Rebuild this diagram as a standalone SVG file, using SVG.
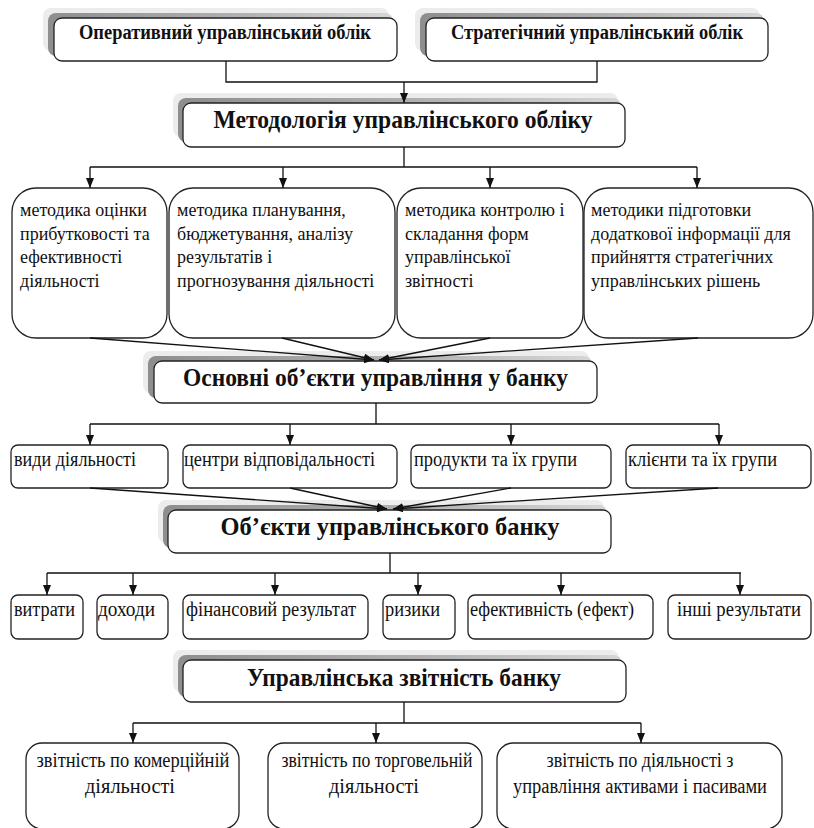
<svg xmlns="http://www.w3.org/2000/svg" width="814" height="828" viewBox="0 0 814 828" font-family="Liberation Serif, serif">
<style>
.bg{fill:#ffffff}
.box{fill:#ffffff;stroke:#222222;stroke-width:1.3}
.glow{fill:#ececec}
.sh{fill:url(#sg)}
.ln{fill:none;stroke:#111111;stroke-width:1.3}
.arr{fill:none;stroke:#111111;stroke-width:1.3;marker-end:url(#ah)}
text{fill:#111111}
.hd{font-weight:bold;text-anchor:middle}
.tp{font-size:20px}
.big{font-size:25px}
.t{font-size:18px}
.s{font-size:20px}
.c{text-anchor:middle}
</style>
<defs>
<linearGradient id="sg" x1="0" y1="0" x2="1" y2="0">
<stop offset="0" stop-color="#8e8e8e"/>
<stop offset="0.6" stop-color="#b4b4b4"/>
<stop offset="1" stop-color="#d6d6d6"/>
</linearGradient>
<marker id="ah" markerUnits="userSpaceOnUse" markerWidth="11" markerHeight="9" refX="10" refY="4" orient="auto">
<path d="M0,0 L10,4 L0,8 Z" fill="#111111"/>
</marker>
</defs>
<rect class="bg" x="0" y="0" width="814" height="828"/>

<g id="operational">
<rect class="glow" x="43" y="8" width="346" height="43" rx="8"/>
<rect class="sh" x="48" y="13" width="345" height="43" rx="8"/>
<rect class="box" x="54" y="18" width="343" height="43" rx="8"/>
<text class="hd tp" font-family="Liberation Serif" x="225" y="39" textLength="292" lengthAdjust="spacingAndGlyphs">Оперативний управлінський облік</text>
</g>
<g id="strategic">
<rect class="glow" x="415" y="8" width="345" height="43" rx="8"/>
<rect class="sh" x="420" y="13" width="344" height="43" rx="8"/>
<rect class="box" x="426" y="18" width="342" height="43" rx="8"/>
<text class="hd tp" font-family="Liberation Serif" x="597" y="39" textLength="292" lengthAdjust="spacingAndGlyphs">Стратегічний управлінський облік</text>
</g>
<g id="methodology">
<rect class="glow" x="173" y="93" width="445" height="44" rx="8"/>
<rect class="sh" x="178" y="98" width="443" height="44" rx="8"/>
<rect class="box" x="183" y="103" width="442" height="44" rx="8"/>
<text class="hd big" font-family="Liberation Serif" x="403" y="128" textLength="379" lengthAdjust="spacingAndGlyphs">Методологія управлінського обліку</text>
</g>

<g id="m1">
<rect class="box" x="12" y="188" width="155" height="150" rx="24"/>
<text class="t" font-family="Liberation Serif" x="20" y="216">методика оцінки</text>
<text class="t" font-family="Liberation Serif" x="20" y="240">прибутковості та</text>
<text class="t" font-family="Liberation Serif" x="20" y="263">ефективності</text>
<text class="t" font-family="Liberation Serif" x="20" y="287">діяльності</text>
</g>
<g id="m2">
<rect class="box" x="169" y="188" width="226" height="150" rx="24"/>
<text class="t" font-family="Liberation Serif" x="177" y="216">методика планування,</text>
<text class="t" font-family="Liberation Serif" x="177" y="240">бюджетування, аналізу</text>
<text class="t" font-family="Liberation Serif" x="177" y="263">результатів і</text>
<text class="t" font-family="Liberation Serif" x="177" y="287">прогнозування діяльності</text>
</g>
<g id="m3">
<rect class="box" x="397" y="188" width="186" height="150" rx="24"/>
<text class="t" font-family="Liberation Serif" x="405" y="216">методика контролю і</text>
<text class="t" font-family="Liberation Serif" x="405" y="240">складання форм</text>
<text class="t" font-family="Liberation Serif" x="405" y="263">управлінської</text>
<text class="t" font-family="Liberation Serif" x="405" y="287">звітності</text>
</g>
<g id="m4">
<rect class="box" x="584" y="188" width="229" height="150" rx="24"/>
<text class="t" font-family="Liberation Serif" x="591" y="216">методики підготовки</text>
<text class="t" font-family="Liberation Serif" x="591" y="240">додаткової інформації для</text>
<text class="t" font-family="Liberation Serif" x="591" y="263">прийняття стратегічних</text>
<text class="t" font-family="Liberation Serif" x="591" y="287">управлінських рішень</text>
</g>

<g id="objects-main">
<rect class="glow" x="143" y="351" width="446" height="42" rx="8"/>
<rect class="sh" x="148" y="356" width="444" height="42" rx="8"/>
<rect class="box" x="154" y="361" width="443" height="42" rx="8"/>
<text class="hd big" font-family="Liberation Serif" x="375.5" y="386" textLength="385" lengthAdjust="spacingAndGlyphs">Основні об’єкти управління у банку</text>
</g>

<g id="b1">
<rect class="box" x="11" y="445" width="157" height="43" rx="7"/>
<text class="s" font-family="Liberation Serif" x="14" y="466" textLength="122" lengthAdjust="spacingAndGlyphs">види діяльності</text>
</g>
<g id="b2">
<rect class="box" x="183" y="445" width="214" height="43" rx="7"/>
<text class="s" font-family="Liberation Serif" x="184" y="466" textLength="191" lengthAdjust="spacingAndGlyphs">центри відповідальності</text>
</g>
<g id="b3">
<rect class="box" x="411" y="445" width="200" height="43" rx="7"/>
<text class="s" font-family="Liberation Serif" x="414" y="466" textLength="163" lengthAdjust="spacingAndGlyphs">продукти та їх групи</text>
</g>
<g id="b4">
<rect class="box" x="626" y="445" width="185" height="43" rx="7"/>
<text class="s" font-family="Liberation Serif" x="628" y="466" textLength="149" lengthAdjust="spacingAndGlyphs">клієнти та їх групи</text>
</g>

<g id="objects-bank">
<rect class="glow" x="158" y="500" width="446" height="43" rx="8"/>
<rect class="sh" x="163" y="505" width="444" height="43" rx="8"/>
<rect class="box" x="168" y="510" width="443" height="43" rx="8"/>
<text class="hd big" font-family="Liberation Serif" x="390" y="535" textLength="339" lengthAdjust="spacingAndGlyphs">Об’єкти управлінського банку</text>
</g>

<g id="c1">
<rect class="box" x="11" y="595" width="72" height="44" rx="7"/>
<text class="s" font-family="Liberation Serif" x="14" y="616" textLength="61" lengthAdjust="spacingAndGlyphs">витрати</text>
</g>
<g id="c2">
<rect class="box" x="97" y="595" width="71" height="44" rx="7"/>
<text class="s" font-family="Liberation Serif" x="98" y="616" textLength="57" lengthAdjust="spacingAndGlyphs">доходи</text>
</g>
<g id="c3">
<rect class="box" x="183" y="595" width="185" height="44" rx="7"/>
<text class="s" font-family="Liberation Serif" x="186" y="616" textLength="170" lengthAdjust="spacingAndGlyphs">фінансовий результат</text>
</g>
<g id="c4">
<rect class="box" x="383" y="595" width="72" height="44" rx="7"/>
<text class="s" font-family="Liberation Serif" x="385" y="616" textLength="55" lengthAdjust="spacingAndGlyphs">ризики</text>
</g>
<g id="c5">
<rect class="box" x="468" y="595" width="185" height="44" rx="7"/>
<text class="s" font-family="Liberation Serif" x="470" y="616" textLength="164" lengthAdjust="spacingAndGlyphs">ефективність (ефект)</text>
</g>
<g id="c6">
<rect class="box" x="668" y="595" width="143" height="44" rx="7"/>
<text class="s" font-family="Liberation Serif" x="677" y="616" textLength="124" lengthAdjust="spacingAndGlyphs">інші результати</text>
</g>

<g id="reporting">
<rect class="glow" x="173" y="650" width="446" height="42" rx="8"/>
<rect class="sh" x="178" y="655" width="444" height="42" rx="8"/>
<rect class="box" x="183" y="660" width="443" height="42" rx="8"/>
<text class="hd big" font-family="Liberation Serif" x="404" y="686" textLength="314" lengthAdjust="spacingAndGlyphs">Управлінська звітність банку</text>
</g>

<g id="d1">
<rect class="box" x="26" y="743" width="213" height="86" rx="16"/>
<text class="s c" font-family="Liberation Serif" x="133" y="767" textLength="193" lengthAdjust="spacingAndGlyphs">звітність по комерційній</text>
<text class="s c" font-family="Liberation Serif" x="130" y="793" textLength="90" lengthAdjust="spacingAndGlyphs">діяльності</text>
</g>
<g id="d2">
<rect class="box" x="268" y="743" width="214" height="86" rx="16"/>
<text class="s c" font-family="Liberation Serif" x="377" y="767" textLength="191" lengthAdjust="spacingAndGlyphs">звітність по торговельній</text>
<text class="s c" font-family="Liberation Serif" x="374" y="793" textLength="90" lengthAdjust="spacingAndGlyphs">діяльності</text>
</g>
<g id="d3">
<rect class="box" x="497" y="743" width="285" height="86" rx="16"/>
<text class="s c" font-family="Liberation Serif" x="640" y="767" textLength="187" lengthAdjust="spacingAndGlyphs">звітність по діяльності з</text>
<text class="s c" font-family="Liberation Serif" x="640" y="793" textLength="254" lengthAdjust="spacingAndGlyphs">управління активами і пасивами</text>
</g>

<g id="connectors">
<path class="ln" d="M226,61 V82 H597 V61"/>
<path class="arr" d="M404,82 V103"/>
<path class="ln" d="M404,147 V167 M90,167 H697"/>
<path class="arr" d="M90,167 V188"/>
<path class="arr" d="M283,167 V188"/>
<path class="arr" d="M490,167 V188"/>
<path class="arr" d="M697,167 V188"/>
<path class="arr" d="M90,338 L374,360"/>
<path class="arr" d="M282,338 L374,360"/>
<path class="arr" d="M490,338 L379,360"/>
<path class="arr" d="M698,338 L379,360"/>
<path class="ln" d="M376,403 V424 M90,424 H719"/>
<path class="arr" d="M90,424 V445"/>
<path class="arr" d="M290,424 V445"/>
<path class="arr" d="M511,424 V445"/>
<path class="arr" d="M719,424 V445"/>
<path class="arr" d="M90,488 L387,509"/>
<path class="arr" d="M290,488 L387,509"/>
<path class="arr" d="M511,488 L393,509"/>
<path class="arr" d="M718,488 L393,509"/>
<path class="ln" d="M390,553 V573 M47,573 H741"/>
<path class="arr" d="M47,573 V595"/>
<path class="arr" d="M133,573 V595"/>
<path class="arr" d="M275,573 V595"/>
<path class="arr" d="M418,573 V595"/>
<path class="arr" d="M561,573 V595"/>
<path class="arr" d="M740,573 V595"/>
<path class="ln" d="M404,702 V723 M133,723 H641"/>
<path class="arr" d="M133,723 V743"/>
<path class="arr" d="M376,723 V743"/>
<path class="arr" d="M641,723 V743"/>
</g>
</svg>
